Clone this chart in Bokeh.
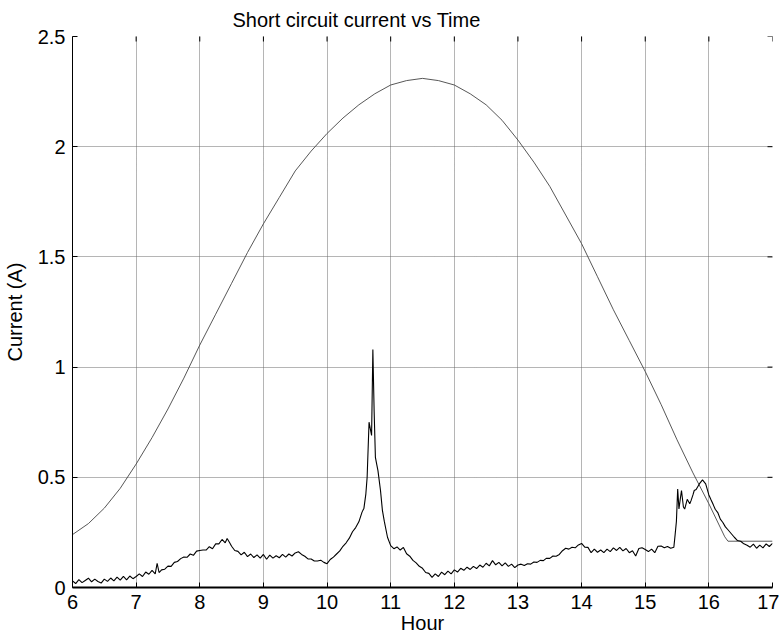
from bokeh.plotting import figure
from bokeh.models import FixedTicker, Title, ColumnDataSource
from bokeh.embed import file_html
from bokeh.resources import INLINE

# Smooth (model) short-circuit current
model_hour = [6.0, 6.25, 6.5, 6.75, 7.0, 7.25, 7.5, 7.75, 8.0, 8.25, 8.5, 8.75,
              9.0, 9.25, 9.5, 9.75, 10.0, 10.25, 10.5, 10.75, 11.0, 11.25, 11.5,
              11.75, 12.0, 12.25, 12.5, 12.75, 13.0, 13.25, 13.5, 13.75, 14.0,
              14.25, 14.5, 14.75, 15.0, 15.25, 15.5, 15.75, 16.0, 16.25, 16.3, 17.0]
model_current = [0.24, 0.29, 0.36, 0.45, 0.56, 0.68, 0.81, 0.95, 1.10, 1.24, 1.38, 1.52,
                 1.65, 1.77, 1.89, 1.98, 2.06, 2.13, 2.19, 2.24, 2.28, 2.30, 2.31,
                 2.30, 2.28, 2.24, 2.19, 2.12, 2.03, 1.93, 1.82, 1.69, 1.56,
                 1.41, 1.26, 1.12, 0.98, 0.83, 0.67, 0.52, 0.38, 0.23, 0.21, 0.21]

# Measured short-circuit current
meas_hour = [6.00, 6.05, 6.10, 6.15, 6.20, 6.25, 6.30, 6.35, 6.40, 6.45, 6.50, 6.55,
             6.60, 6.65, 6.70, 6.75, 6.80, 6.85, 6.90, 6.95, 7.00, 7.05, 7.10, 7.15,
             7.20, 7.25, 7.30, 7.33, 7.36, 7.40, 7.45, 7.50, 7.55, 7.60, 7.65, 7.70,
             7.75, 7.80, 7.85, 7.90, 7.95, 8.00, 8.05, 8.10, 8.15, 8.20, 8.25, 8.30,
             8.35, 8.40, 8.43, 8.47, 8.50, 8.55, 8.60, 8.65, 8.70, 8.75, 8.80, 8.85,
             8.90, 8.95, 9.00, 9.05, 9.10, 9.15, 9.20, 9.25, 9.30, 9.35, 9.40, 9.45,
             9.50, 9.55, 9.60, 9.65, 9.70, 9.75, 9.80, 9.85, 9.90, 9.95, 10.00, 10.05,
             10.10, 10.15, 10.20, 10.25, 10.30, 10.35, 10.40, 10.45, 10.50, 10.55,
             10.58, 10.61, 10.63, 10.66, 10.68, 10.70, 10.72, 10.74, 10.76, 10.78,
             10.80, 10.84, 10.87, 10.90, 10.95, 11.00, 11.05, 11.10, 11.15, 11.20,
             11.25, 11.30, 11.35, 11.40, 11.45, 11.50, 11.55, 11.60, 11.65, 11.70,
             11.75, 11.80, 11.85, 11.90, 11.95, 12.00, 12.05, 12.10, 12.15, 12.20,
             12.25, 12.30, 12.35, 12.40, 12.45, 12.50, 12.55, 12.60, 12.65, 12.70,
             12.75, 12.80, 12.85, 12.90, 12.95, 13.00, 13.05, 13.10, 13.15, 13.20,
             13.25, 13.30, 13.35, 13.40, 13.45, 13.50, 13.55, 13.60, 13.65, 13.70,
             13.75, 13.80, 13.85, 13.90, 13.95, 14.00, 14.05, 14.10, 14.15, 14.20,
             14.25, 14.30, 14.35, 14.40, 14.45, 14.50, 14.55, 14.60, 14.65, 14.70,
             14.75, 14.80, 14.85, 14.90, 14.95, 15.00, 15.05, 15.10, 15.15, 15.20,
             15.25, 15.30, 15.35, 15.40, 15.45, 15.47, 15.49, 15.51, 15.53, 15.55,
             15.57, 15.60, 15.62, 15.66, 15.70, 15.72, 15.75, 15.77, 15.80, 15.85,
             15.90, 15.95, 16.00, 16.03, 16.07, 16.10, 16.14, 16.18, 16.22, 16.26,
             16.30, 16.35, 16.40, 16.45, 16.50, 16.55, 16.60, 16.65, 16.70, 16.75,
             16.80, 16.85, 16.90, 16.95, 17.00]
meas_current = [0.030, 0.018, 0.036, 0.022, 0.032, 0.042, 0.026, 0.038, 0.027, 0.020, 0.038, 0.028,
                0.043, 0.030, 0.047, 0.033, 0.050, 0.035, 0.052, 0.040, 0.050, 0.062, 0.050, 0.070,
                0.060, 0.078, 0.062, 0.110, 0.068, 0.080, 0.083, 0.097, 0.096, 0.114, 0.118, 0.131,
                0.138, 0.137, 0.152, 0.146, 0.165, 0.168, 0.170, 0.170, 0.185, 0.176, 0.198, 0.198,
                0.218, 0.203, 0.222, 0.203, 0.187, 0.168, 0.164, 0.148, 0.160, 0.140, 0.152, 0.136,
                0.148, 0.133, 0.150, 0.128, 0.147, 0.133, 0.144, 0.135, 0.150, 0.138, 0.152, 0.143,
                0.157, 0.162, 0.150, 0.142, 0.130, 0.129, 0.120, 0.120, 0.124, 0.114, 0.108, 0.127,
                0.138, 0.152, 0.166, 0.187, 0.203, 0.224, 0.253, 0.272, 0.298, 0.342,
                0.360, 0.425, 0.500, 0.750, 0.720, 0.690, 1.080, 0.800, 0.590, 0.560,
                0.530, 0.440, 0.350, 0.300, 0.228, 0.190, 0.176, 0.184, 0.170, 0.182,
                0.153, 0.142, 0.123, 0.112, 0.096, 0.087, 0.068, 0.064, 0.046, 0.062,
                0.050, 0.070, 0.058, 0.074, 0.062, 0.080, 0.070, 0.087, 0.078, 0.092,
                0.082, 0.096, 0.086, 0.102, 0.092, 0.110, 0.098, 0.122, 0.103, 0.114,
                0.098, 0.112, 0.096, 0.106, 0.090, 0.102, 0.106, 0.100, 0.108, 0.106,
                0.116, 0.114, 0.123, 0.122, 0.133, 0.132, 0.143, 0.142, 0.150, 0.167,
                0.178, 0.174, 0.183, 0.180, 0.193, 0.200, 0.183, 0.182, 0.158, 0.174,
                0.160, 0.170, 0.158, 0.174, 0.163, 0.180, 0.168, 0.182, 0.166, 0.177,
                0.158, 0.167, 0.143, 0.177, 0.180, 0.172, 0.163, 0.174, 0.158, 0.187,
                0.188, 0.180, 0.186, 0.178, 0.183, 0.240, 0.300, 0.447, 0.356, 0.400,
                0.440, 0.365, 0.356, 0.400, 0.380, 0.394, 0.420, 0.440, 0.445, 0.470,
                0.488, 0.470, 0.420, 0.400, 0.375, 0.355, 0.340, 0.310, 0.295, 0.275,
                0.262, 0.245, 0.228, 0.213, 0.210, 0.198, 0.192, 0.183, 0.197, 0.178,
                0.192, 0.180, 0.198, 0.186, 0.200]

x_ticks = [6, 7, 8, 9, 10, 11, 12, 13, 14, 15, 16, 17]
y_ticks = [0, 0.5, 1, 1.5, 2, 2.5]
y_tick_labels = ["0", "0.5", "1", "1.5", "2", "2.5"]
x_top = [17.0] * len(y_ticks)
y_top = [2.5] * len(x_ticks)

FONT = "Liberation Sans"

p = figure(width=779, height=644, x_range=(6, 17), y_range=(0, 2.5),
           output_backend="svg", toolbar_location=None,
           min_border_left=72, min_border_right=7, min_border_top=36, min_border_bottom=57)

p.outline_line_color = None
p.background_fill_color = "white"
p.border_fill_color = "white"

p.add_layout(Title(text="Short circuit current vs Time", text_font=FONT, text_font_size="20px",
                   text_font_style="normal", text_color="black", align="left",
                   offset=160, standoff=12), "above")

for ax in (p.xaxis[0], p.yaxis[0]):
    ax.major_tick_in = 5
    ax.major_tick_out = 0
    ax.minor_tick_in = 0
    ax.minor_tick_out = 0
    ax.axis_line_color = "black"
    ax.major_tick_line_color = "black"
    ax.major_label_text_font = FONT
    ax.major_label_text_font_size = "20px"
    ax.major_label_text_color = "black"
    ax.axis_label_text_font = FONT
    ax.axis_label_text_font_size = "20px"
    ax.axis_label_text_font_style = "normal"
    ax.axis_label_text_color = "black"

p.xaxis.ticker = FixedTicker(ticks=x_ticks)
p.yaxis.ticker = FixedTicker(ticks=y_ticks)
p.yaxis.major_label_overrides = {v: s for v, s in zip(y_ticks, y_tick_labels)}
p.xaxis.axis_label = "Hour"
p.yaxis.axis_label = "Current (A)"
p.xaxis.major_label_standoff = 7
p.xaxis.axis_label_standoff = 0
p.yaxis.major_label_standoff = 7
p.yaxis.axis_label_standoff = 9
p.xaxis.axis_line_width = 2

for g in (p.xgrid[0], p.ygrid[0]):
    g.grid_line_color = "#6a6a6a"
    g.grid_line_dash = "1 1"
    g.grid_line_width = 1

p.xgrid.ticker = FixedTicker(ticks=x_ticks)
p.ygrid.ticker = FixedTicker(ticks=y_ticks)

# inward tick marks on the top and right edges (clipped half of a dash marker)
p.scatter(x_ticks, y_top, marker="dash", size=10, angle=1.5708, line_color="black", line_width=1)
p.scatter(x_top, y_ticks, marker="dash", size=10, line_color="black", line_width=1)

model_src = ColumnDataSource(dict(x=model_hour, y=model_current))
meas_src = ColumnDataSource(dict(x=meas_hour, y=meas_current))
p.line("x", "y", source=model_src, line_color="#444444", line_width=0.9)
p.line("x", "y", source=meas_src, line_color="black", line_width=1.1)

open("out.html", "w").write(file_html(p, INLINE))
